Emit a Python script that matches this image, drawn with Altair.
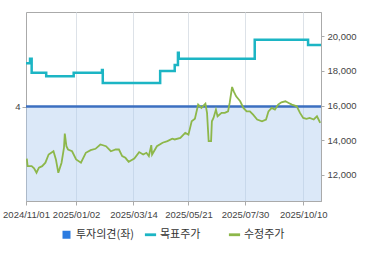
import altair as alt
import pandas as pd

# ---- data ----
price_dates = [
    "2024-11-02", "2024-11-03", "2024-11-08", "2024-11-11", "2024-11-14", "2024-11-17",
    "2024-11-21", "2024-11-25", "2024-11-29", "2024-12-05", "2024-12-08", "2024-12-11",
    "2024-12-15", "2024-12-18", "2024-12-19", "2024-12-21", "2024-12-23", "2024-12-28",
    "2025-01-02", "2025-01-08", "2025-01-14", "2025-01-20", "2025-01-26", "2025-02-01",
    "2025-02-08", "2025-02-14", "2025-02-20", "2025-02-24", "2025-02-28", "2025-03-04",
    "2025-03-08", "2025-03-15", "2025-03-21", "2025-03-26", "2025-03-30", "2025-04-02",
    "2025-04-05", "2025-04-06", "2025-04-12", "2025-04-19", "2025-04-25", "2025-05-01",
    "2025-05-04", "2025-05-11", "2025-05-17", "2025-05-21", "2025-05-25", "2025-05-29",
    "2025-06-02", "2025-06-06", "2025-06-11", "2025-06-13", "2025-06-15", "2025-06-18",
    "2025-06-19", "2025-06-21", "2025-06-24", "2025-06-26", "2025-07-01", "2025-07-05",
    "2025-07-09", "2025-07-11", "2025-07-14", "2025-07-16", "2025-07-19", "2025-07-24",
    "2025-07-28", "2025-08-01", "2025-08-05", "2025-08-09", "2025-08-14", "2025-08-20",
    "2025-08-25", "2025-08-28", "2025-09-01", "2025-09-05", "2025-09-09", "2025-09-13",
    "2025-09-18", "2025-09-22", "2025-09-26", "2025-10-02", "2025-10-06", "2025-10-10",
    "2025-10-14", "2025-10-18", "2025-10-23", "2025-10-27", "2025-10-29", "2025-10-31",
]
price_values = [
    12940, 12510, 12510, 12380, 12130, 12420,
    12510, 12710, 13180, 13370, 12900, 12130,
    12710, 13570, 14390, 13660, 13470, 13370,
    12900, 12710, 13280, 13430, 13510, 13760,
    13660, 13370, 13470, 13470, 13090, 12990,
    12760, 12950, 13320, 13180, 13280, 13090,
    13720, 13180, 13660, 13860, 13950, 14090,
    14050, 14140, 14430, 14330, 15100, 15240,
    16060, 15870, 16110, 15580, 13950, 13950,
    15100, 15290, 15770, 15385, 15580, 15580,
    15670, 16155, 17075, 16820, 16535, 16250,
    15870, 15670, 15670, 15480, 15200, 15100,
    15200, 15670, 15870, 15770, 16060, 16190,
    16250, 16155, 16060, 15960, 15580, 15290,
    15240, 15290, 15200, 15385, 15200, 15005,
]
target_dates = [
    "2024-11-01", "2024-11-06", "2024-11-08", "2024-11-26", "2024-12-30",
    "2025-02-03", "2025-02-04", "2025-04-16", "2025-05-04", "2025-05-08",
    "2025-05-09", "2025-08-11", "2025-10-16", "2025-11-01",
]
target_values = [
    18450, 18700, 17900, 17700, 17900,
    18050, 17300, 18000, 18350, 19050,
    18700, 19800, 19500, 19500,
]
opinion_dates = ["2024-11-01", "2025-11-01"]
opinion_values = [4, 4]

x_tick_dates = ["2024-11-01", "2025-01-02", "2025-03-14", "2025-05-21", "2025-07-30", "2025-10-10"]
right_ticks = [12000, 14000, 16000, 18000, 20000]
left_ticks = [4]
series_names = ["투자의견(좌)", "목표주가", "수정주가"]
series_colors = ["#2b7be0", "#1cb5c4", "#8db74a"]

LINE_SYM = "M-1.4,-0.35H1.4V0.35H-1.4Z"
series_shapes = ["square", LINE_SYM, LINE_SYM]

df_price = pd.DataFrame({"date": pd.to_datetime(price_dates), "value": price_values})
df_target = pd.DataFrame({"date": pd.to_datetime(target_dates), "value": target_values})
df_op = pd.DataFrame({"date": pd.to_datetime(opinion_dates), "value": opinion_values})
df_leg = pd.DataFrame({"series": series_names})


def dt(s):
    y, m, d = (int(p) for p in s.split("-"))
    return alt.DateTime(year=y, month=m, date=d)


NUM_FONT = "Liberation Sans"
X = alt.X(
    "date:T",
    title=None,
    scale=alt.Scale(domain=[dt("2024-11-01"), dt("2025-11-01")]),
    axis=alt.Axis(
        values=[dt(s) for s in x_tick_dates],
        format="%Y/%m/%d",
        labelFlush=False,
        labelOverlap=False,
        grid=True,
        gridColor="#dde2e8",
        tickSize=4,
        labelPadding=4,
        labelFont=NUM_FONT,
        labelFontSize=9.5,
        labelColor="#444",
        domainColor="#aaaaaa",
        tickColor="#aaaaaa",
    ),
)

op_base = alt.Chart(df_op).encode(
    x=X,
    y=alt.Y(
        "value:Q",
        title=None,
        scale=alt.Scale(domain=[0, 8]),
        axis=alt.Axis(
            orient="left",
            values=left_ticks,
            grid=False,
            tickSize=4,
            labelPadding=2,
            labelFont=NUM_FONT,
            labelFontSize=9.5,
            labelColor="#444",
            domainColor="#aaaaaa",
            tickColor="#aaaaaa",
        ),
    ),
)
op_area = op_base.mark_area(color="#b0cdf0", opacity=0.45)
op_line = op_base.mark_line(color="#3b6fc0", strokeWidth=2.5)
left = alt.layer(op_area, op_line)

Y_RIGHT = alt.Y(
    "value:Q",
    title=None,
    scale=alt.Scale(domain=[10500, 21400], nice=False, zero=False),
    axis=alt.Axis(
        orient="right",
        values=right_ticks,
        format=",.0f",
        grid=False,
        tickSize=3,
        labelPadding=3,
        labelFont=NUM_FONT,
        labelFontSize=9.5,
        labelColor="#444",
        domainColor="#aaaaaa",
        tickColor="#aaaaaa",
    ),
)
target_line = alt.Chart(df_target).mark_line(
    color="#1cb5c4", strokeWidth=2.5, interpolate="step-after"
).encode(x=X, y=Y_RIGHT)
price_line = alt.Chart(df_price).mark_line(
    color="#8db74a", strokeWidth=1.8
).encode(x=X, y=Y_RIGHT)
right = alt.layer(target_line, price_line)

leg = alt.Legend(
    title=None,
    orient="none",
    legendX=35,
    legendY=217,
    direction="horizontal",
    columns=3,
    gridAlign="all",
    columnPadding=9,
    symbolSize=64,
    symbolStrokeWidth=0,
    labelOffset=4,
    labelFont="Noto Sans CJK KR",
    labelFontSize=11,
    labelColor="#333",
    padding=0,
)
legend_layer = alt.Chart(df_leg).transform_filter("false").mark_point(
    filled=True, opacity=1
).encode(
    color=alt.Color("series:N", scale=alt.Scale(domain=series_names, range=series_colors), legend=leg),
    shape=alt.Shape("series:N", scale=alt.Scale(domain=series_names, range=series_shapes), legend=leg),
)

chart = (
    alt.layer(left, right, legend_layer)
    .resolve_scale(y="independent")
    .properties(
        width=295,
        height=189,
        autosize=alt.AutoSizeParams(type="none"),
        padding={"left": 26, "top": 12, "right": 49, "bottom": 54},
    )
    .configure_view(stroke="#aaaaaa")
)

chart.save("out.html", embed_options={"renderer": "svg", "actions": False})
